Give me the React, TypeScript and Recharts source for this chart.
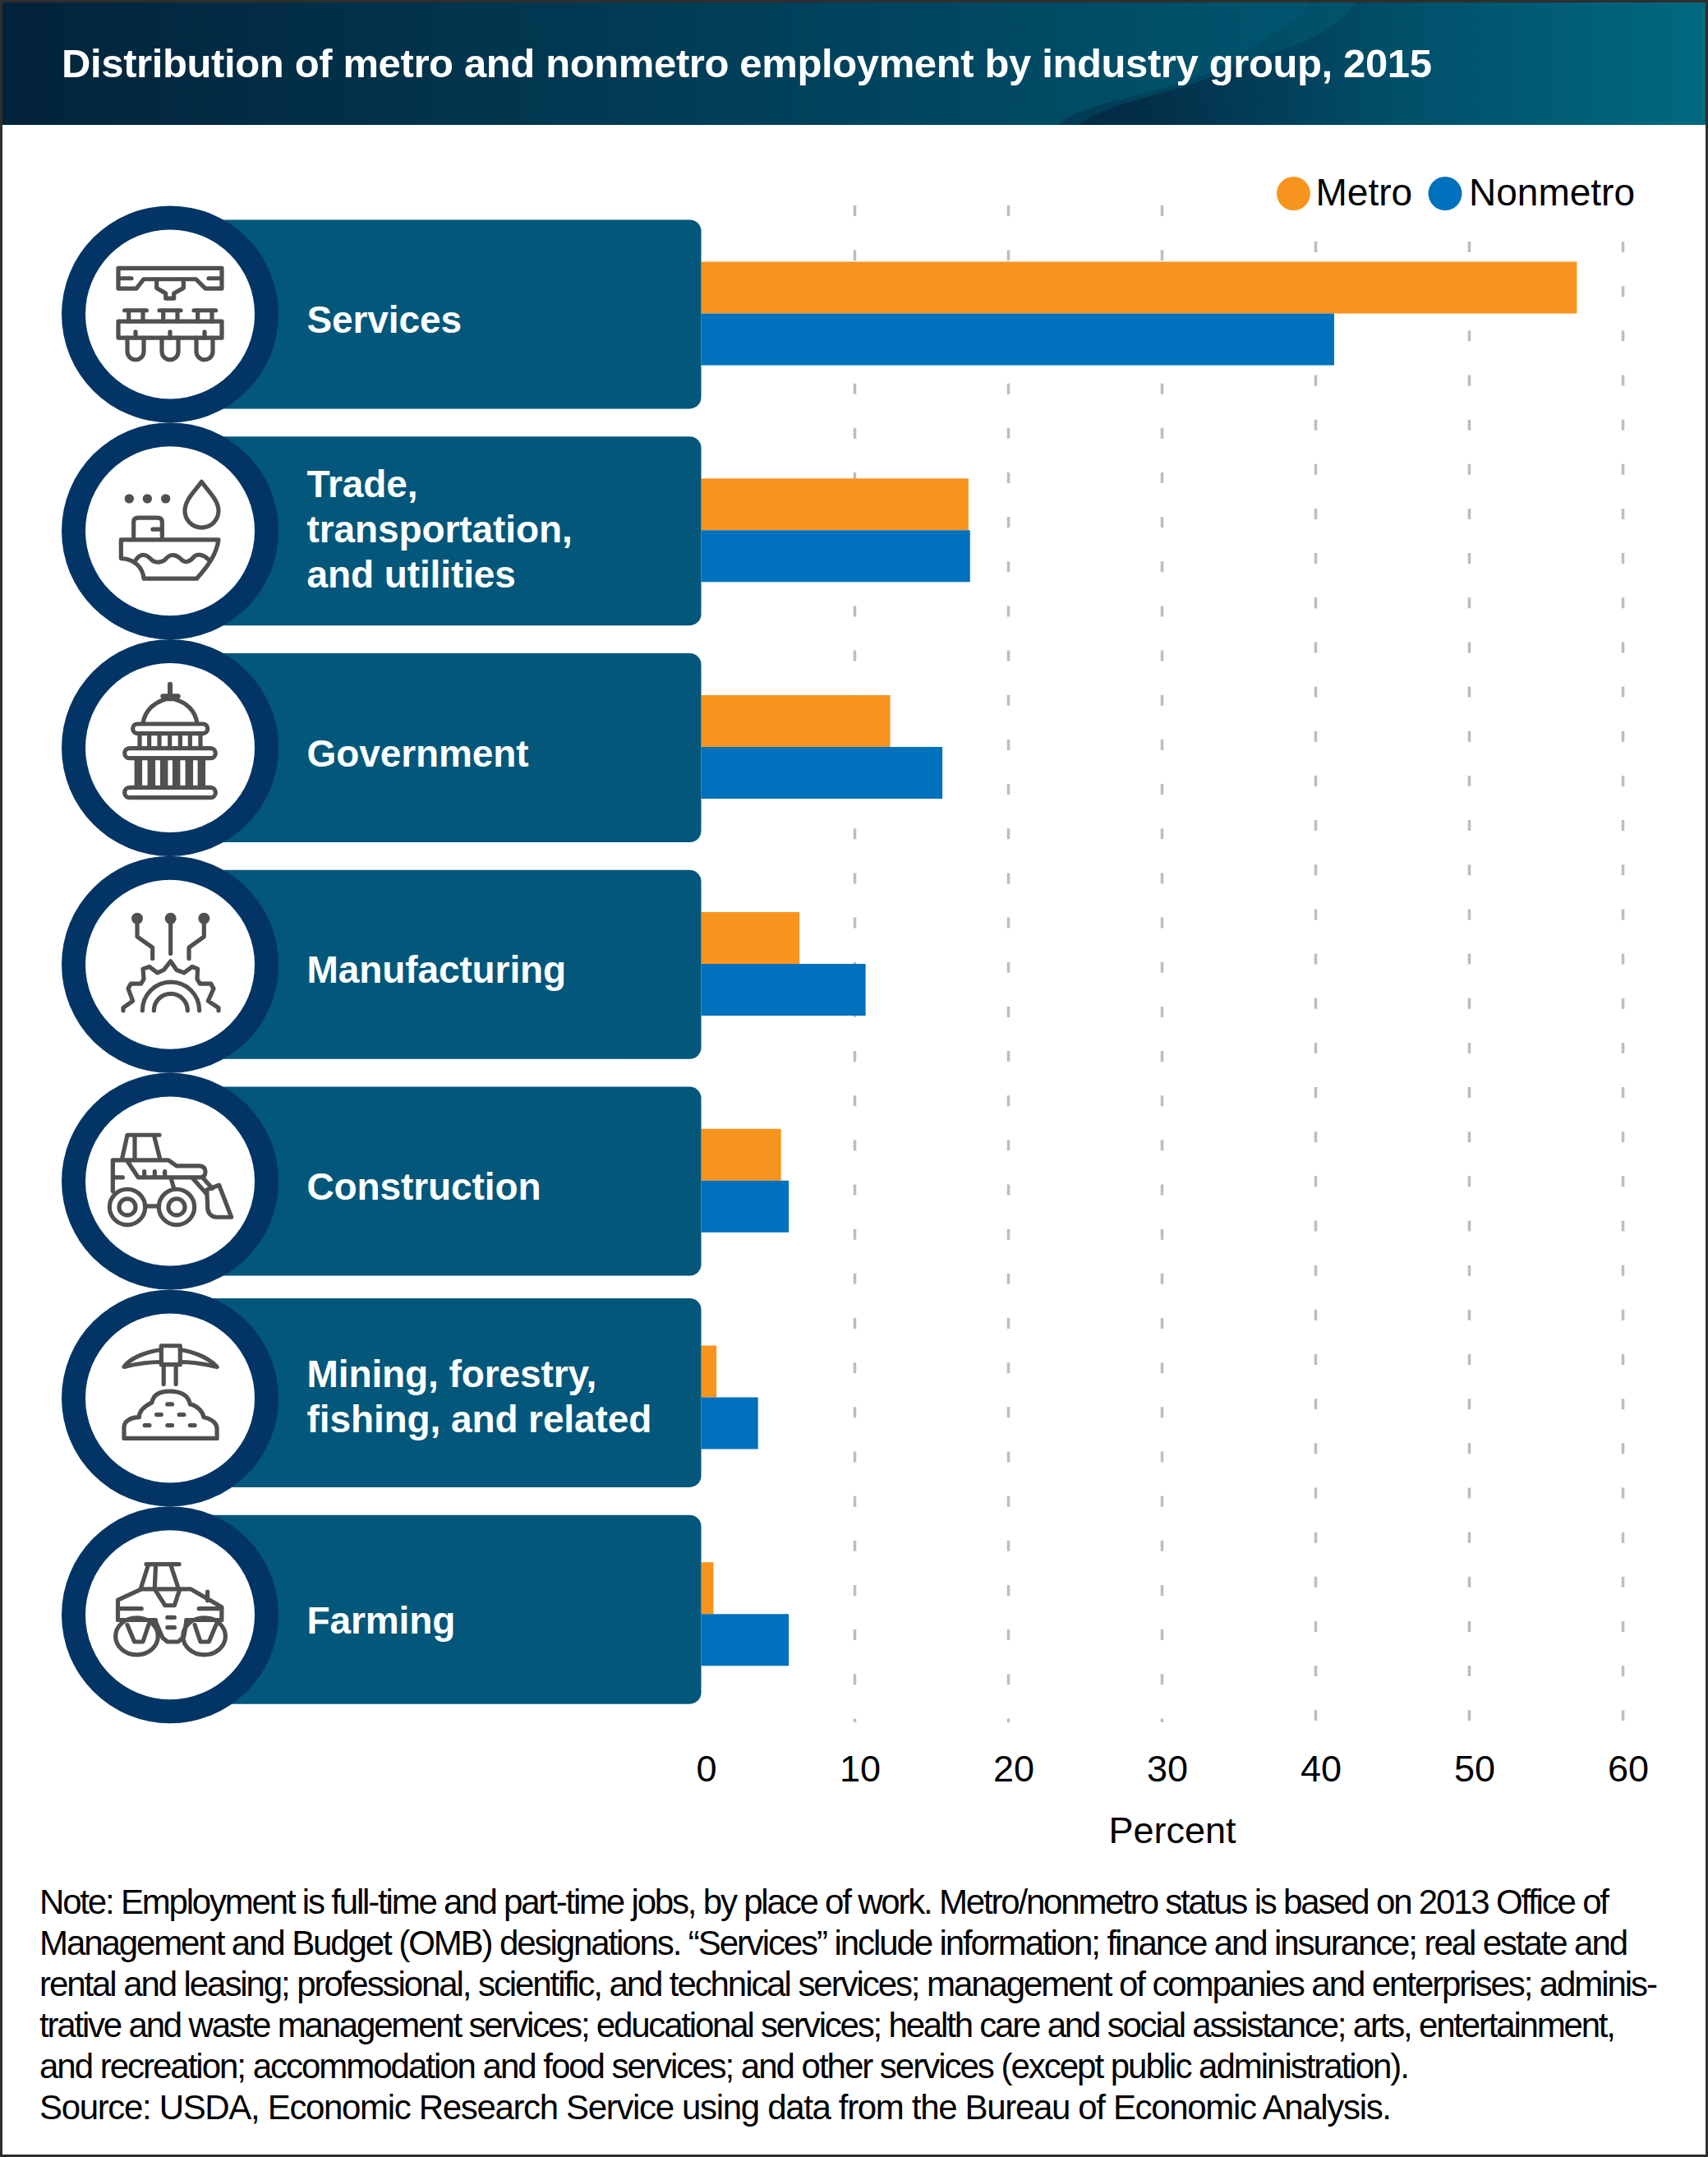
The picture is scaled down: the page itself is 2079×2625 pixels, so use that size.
import { Bar, BarChart, CartesianGrid, Legend, XAxis, YAxis } from 'recharts'

const categories = [
  'Services',
  'Trade, transportation, and utilities',
  'Government',
  'Manufacturing',
  'Construction',
  'Mining, forestry, fishing, and related',
  'Farming',
]
const categoryLines = [
  ['Services'],
  ['Trade,', 'transportation,', 'and utilities'],
  ['Government'],
  ['Manufacturing'],
  ['Construction'],
  ['Mining, forestry,', 'fishing, and related'],
  ['Farming'],
]
const metro = [57, 17.4, 12.3, 6.4, 5.2, 1, 0.8]
const nonmetro = [41.2, 17.5, 15.7, 10.7, 5.7, 3.7, 5.7]
const percentTicks = [0, 10, 20, 30, 40, 50, 60]
const gridValues = [10, 20, 30, 40, 50, 60]

const noteLines = [
  'Note: Employment is full-time and part-time jobs, by place of work. Metro/nonmetro status is based on 2013 Office of',
  'Management and Budget (OMB) designations. “Services” include information; finance and insurance; real estate and',
  'rental and leasing; professional, scientific, and technical services; management of companies and enterprises; adminis-',
  'trative and waste management services; educational services; health care and social assistance; arts, entertainment,',
  'and recreation; accommodation and food services; and other services (except public administration).',
  'Source: USDA, Economic Research Service using data from the Bureau of Economic Analysis.',
]
const noteWidths = [1911, 1934, 1970, 1919, 1668, 1646]

const chartData = categories.map((category, i) => ({
  category,
  metro: metro[i],
  nonmetro: nonmetro[i],
}))

const FONT = '"Liberation Sans", Arial, sans-serif'
const ORANGE = '#F7941E'
const BLUE = '#0071BC'
const PANEL = '#02577A'
const RING = '#023565'
const ICON = '#505050'

// Icons are traced in zoomed crop pixels, hence the scale on each group.
function Stroke({ children }: { children: React.ReactNode }) {
  return (
    <g fill="none" stroke={ICON} strokeWidth={5.2} strokeLinecap="round" strokeLinejoin="round">
      {children}
    </g>
  )
}

const p = (d: string, w?: number) => <path d={d} vectorEffect="non-scaling-stroke" strokeWidth={w} />

function ServicesIcon() {
  return (
    <g transform="scale(0.3333) translate(-321,-246)">
      <Stroke>
        {p('M132,78 H510 V152 H450 L415,118 H225 L198,152 H132 Z')}
        {p('M135,115 H180 M462,115 H505')}
        {p('M272,120 V150 L305,170 V188 H335 V170 L370,150 V120')}
        {p('M155,232 H235 M282,232 H360 M408,232 H488')}
        {p('M170,232 V272 M222,232 V272 M296,232 V272 M348,232 V272 M422,232 V272 M474,232 V272')}
        {p('M132,272 H510 V332 H132 Z')}
        {p('M165,332 V382 A30,30 0 0 0 225,382 V332 M291,332 V382 A30,30 0 0 0 351,382 V332 M417,332 V382 A30,30 0 0 0 477,382 V332')}
        {p('M195,310 V332 M321,310 V332 M447,310 V332')}
      </Stroke>
    </g>
  )
}

function TradeIcon() {
  return (
    <g transform="scale(0.3333) translate(-321,-258)">
      <g fill={ICON}>
        <circle cx={172} cy={140} r={17} />
        <circle cx={238} cy={140} r={17} />
        <circle cx={305} cy={140} r={17} />
      </g>
      <Stroke>
        {p('M436,78 C410,115 375,145 375,185 A61,60 0 0 0 498,185 C498,145 462,115 436,78 Z')}
        {p('M188,288 V225 Q188,210 205,210 H275 Q292,210 292,225 V288')}
        {p('M258,252 H285')}
        {p('M142,290 H498 C490,345 460,385 418,432 H225 C222,395 195,360 142,358 Z')}
        {p('M195,365 C215,335 235,345 250,360 C265,378 295,375 310,355 C325,340 345,345 360,360 C375,378 395,370 410,350 C425,340 445,345 465,365')}
      </Stroke>
    </g>
  )
}

function GovernmentIcon() {
  return (
    <g transform="scale(0.3333) translate(-321,-270)">
      <Stroke>
        {p('M321,38 V80', 6)}
        {p('M295,82 H350', 6)}
        {p('M222,180 C230,130 265,105 305,92 H337 C380,105 412,130 420,180')}
        <rect x={185} y={183} width={273} height={35} rx={17} vectorEffect="non-scaling-stroke" />
        {p('M210,218 V270 M245,218 V270 M282,218 V270 M320,218 V270 M358,218 V270 M394,218 V270 M432,218 V270')}
        <rect x={155} y={272} width={332} height={36} rx={18} vectorEffect="non-scaling-stroke" />
        <g strokeLinecap="butt">
          {p('M205,308 V415 M253,308 V415 M299,308 V415 M344,308 V415 M391,308 V415 M436,308 V415', 9.5)}
        </g>
        <rect x={155} y={415} width={332} height={37} rx={18} vectorEffect="non-scaling-stroke" />
      </Stroke>
    </g>
  )
}

function ManufacturingIcon() {
  return (
    <g transform="scale(0.3333) translate(-321,-252)">
      <g fill={ICON}>
        <circle cx={201} cy={84} r={21} />
        <circle cx={323} cy={84} r={21} />
        <circle cx={445} cy={84} r={21} />
      </g>
      <Stroke>
        {p('M201,84 V150 L257,190 V230 M323,84 V212 M445,84 V150 L390,190 V230')}
        {p('M150,420 V410 L185,385 L168,340 L178,322 H215 L225,305 L222,268 L245,260 L275,282 L298,272 L323,240 L345,272 L372,282 L402,260 L422,268 L420,305 L430,322 H470 L480,340 L460,385 L498,410 V420')}
        {p('M220,420 A104,104 0 0 1 428,420 M262,420 A61,61 0 0 1 385,420')}
      </Stroke>
    </g>
  )
}

function ConstructionIcon() {
  return (
    <g transform="scale(0.3333) translate(-321,-264)">
      <Stroke>
        {p('M145,185 L165,95 H282 M192,95 V185 M262,95 L285,185')}
        {p('M112,300 V187 H315 L345,208 H430 Q450,210 450,230 Q450,250 430,250 H205 L165,190')}
        {p('M120,250 H148 M227,228 V248 M265,228 V248 M302,228 V248')}
        <circle cx={165} cy={358} r={65} vectorEffect="non-scaling-stroke" />
        <circle cx={165} cy={358} r={30} vectorEffect="non-scaling-stroke" />
        <circle cx={345} cy={358} r={65} vectorEffect="non-scaling-stroke" />
        <circle cx={345} cy={358} r={30} vectorEffect="non-scaling-stroke" />
        {p('M230,355 H280 M325,255 L335,290 M405,255 L455,310 M440,250 L475,290')}
        {p('M455,295 L500,278 L545,395 H490 Q455,390 458,350 Z')}
      </Stroke>
    </g>
  )
}

function MiningIcon() {
  return (
    <g transform="scale(0.5741,0.3953) translate(-360.6,-511)">
      <Stroke>
        <rect x={342} y={350} width={40} height={58} vectorEffect="non-scaling-stroke" />
        {p('M342,362 C305,370 275,390 263,415 C290,405 320,400 342,400 M382,362 C415,370 445,390 460,415 C430,405 405,400 382,400')}
        {p('M347,410 V468 M373,410 V468')}
        {p('M263,635 V600 C263,580 280,570 295,570 C295,545 315,530 322,525 C325,500 340,490 360,490 C385,490 400,505 403,530 C420,535 430,555 432,570 C450,575 460,590 460,605 V635 Z')}
        {p('M355,530 H365 M332,562 H342 M380,562 H390 M307,595 H317 M355,595 H365 M403,595 H413')}
      </Stroke>
    </g>
  )
}

function FarmingIcon() {
  return (
    <g transform="scale(0.5741,0.3953) translate(-360.6,-1179)">
      <Stroke>
        {p('M310,1023 H380 M315,1023 L298,1100 M330,1030 L328,1100 L350,1150 H370 L380,1105 L363,1030')}
        {p('M250,1195 V1133 L300,1100 H405 L470,1155 V1195 H395 M250,1195 H330')}
        {p('M250,1160 H300 M422,1160 H470 M355,1187 H370 M355,1218 H370 M440,1108 V1135')}
        <ellipse cx={290} cy={1245} rx={45} ry={57} vectorEffect="non-scaling-stroke" />
        <ellipse cx={433} cy={1245} rx={45} ry={57} vectorEffect="non-scaling-stroke" />
        {p('M270,1210 L285,1262 H303 L315,1210 M413,1210 L425,1262 H443 L458,1210')}
        {p('M330,1200 L345,1250 L355,1262 H378 L390,1245 L395,1200')}
      </Stroke>
    </g>
  )
}

const icons = [ServicesIcon, TradeIcon, GovernmentIcon, ManufacturingIcon, ConstructionIcon, MiningIcon, FarmingIcon]

// Each category label is a panel with a ringed icon, drawn at the band centre.
function CategoryTick({ y, index }: any) {
  const Icon = icons[index]
  const lines = categoryLines[index]
  // The two bottom panels sit a little above their circles in the original.
  const panelShift = index >= 5 ? -5.5 : 1
  const cy = y + 1
  const firstBaseline = lines.length === 1 ? cy + 22.5 : cy + 14 - ((lines.length - 1) * 55) / 2
  return (
    <g>
      <rect x={150} y={y - 115 + panelShift} width={703.5} height={230} rx={14} fill={PANEL} />
      <circle cx={207} cy={cy} r={132} fill={RING} />
      <circle cx={207} cy={cy} r={103} fill="#fff" />
      <g transform={`translate(207,${cy})`}>
        <Icon />
      </g>
      {lines.map((line, i) => (
        <text
          key={line}
          x={373.5}
          y={firstBaseline + i * 55}
          fill="#fff"
          fontFamily={FONT}
          fontWeight={700}
          fontSize={46}
          letterSpacing={-0.1}
        >
          {line}
        </text>
      ))}
    </g>
  )
}

function PercentTick({ x, y, payload }: any) {
  return (
    <text x={x + 6.5} y={y} textAnchor="middle" fontFamily={FONT} fontSize={45} fill="#000">
      {payload.value}
    </text>
  )
}

function GridLine({ x1, x2, index, stroke }: any) {
  // 10-30 run up to the top of the plot, 40-60 stop under the legend.
  const top = index < 3 ? 250 : 294
  const bottom = index < 3 ? 2096 : 2094
  return (
    <line
      key={index}
      x1={x1}
      x2={x2}
      y1={top}
      y2={bottom}
      stroke={stroke}
      strokeWidth={3.5}
      strokeDasharray="13 41.16"
    />
  )
}

function LegendContent() {
  return (
    <svg width={460} height={70} style={{ display: 'block' }}>
      <circle cx={24.5} cy={35.5} r={20.5} fill={ORANGE} />
      <text x={51.5} y={50} fontFamily={FONT} fontSize={46} fill="#000">
        Metro
      </text>
      <circle cx={209} cy={35.5} r={20.5} fill={BLUE} />
      <text x={238} y={50} fontFamily={FONT} fontSize={46} fill="#000">
        Nonmetro
      </text>
    </svg>
  )
}

function Backdrop() {
  return (
    <svg width={2079} height={2625} style={{ position: 'absolute', left: 0, top: 0 }}>
      <defs>
        <linearGradient id="headBase" x1="0" x2="1" y1="0" y2="0">
          <stop offset="0" stopColor="#03233A" />
          <stop offset="0.5" stopColor="#01435D" />
          <stop offset="0.78" stopColor="#00566F" />
        </linearGradient>
        <linearGradient id="headBand" gradientUnits="userSpaceOnUse" x1="1300" x2="1650" y1="0" y2="0">
          <stop offset="0" stopColor="#023A54" />
          <stop offset="1" stopColor="#01546D" />
        </linearGradient>
        <linearGradient id="headWave" gradientUnits="userSpaceOnUse" x1="1300" x2="2079" y1="0" y2="0">
          <stop offset="0" stopColor="#032B44" />
          <stop offset="0.12" stopColor="#032E48" />
          <stop offset="0.5" stopColor="#014E68" />
          <stop offset="1" stopColor="#006A80" />
        </linearGradient>
      </defs>
      <rect width={2079} height={152} fill="url(#headBase)" />
      <path
        d="M1595,3 C1585,20 1540,50 1482,83 C1420,115 1310,125 1289,152 L1315,152 C1340,125 1430,115 1482,90 C1540,65 1620,50 1650,3 Z"
        fill="url(#headBand)"
      />
      <path
        d="M1650,3 C1620,50 1540,65 1482,90 C1430,115 1340,125 1315,152 H2079 V3 Z"
        fill="url(#headWave)"
      />
    </svg>
  )
}

export default function App() {
  return (
    <div style={{ position: 'absolute', left: 0, top: 0, width: 2079, height: 2625, background: '#fff', overflow: 'hidden' }}>
      <Backdrop />
      <BarChart
        width={2079}
        height={2625}
        data={chartData}
        layout="vertical"
        margin={{ top: 249.5, right: 103.5, bottom: 0, left: 0 }}
        barCategoryGap={68.9}
        barGap={0}
        barSize={63}
        style={{ position: 'absolute', left: 0, top: 0 }}
      >
        <CartesianGrid horizontal={false} verticalValues={gridValues} vertical={GridLine} stroke="#BDBDBD" />
        <XAxis
          type="number"
          domain={[0, 60]}
          ticks={percentTicks}
          height={528.9}
          axisLine={false}
          tickLine={false}
          tickMargin={0}
          tick={(props: any) => <PercentTick {...props} y={2168} />}
          label={{
            content: () => (
              <text x={1427} y={2243} textAnchor="middle" fontFamily={FONT} fontSize={45} fill="#000">
                Percent
              </text>
            ),
          }}
        />
        <YAxis
          type="category"
          dataKey="category"
          width={853.5}
          axisLine={false}
          tickLine={false}
          interval={0}
          tick={(props: any) => <CategoryTick {...props} />}
        />
        <Legend
          layout="horizontal"
          align="center"
          verticalAlign="middle"
          content={<LegendContent />}
          wrapperStyle={{ left: 1550, top: 200, width: 460, height: 70 }}
        />
        <Bar dataKey="metro" name="Metro" fill={ORANGE} isAnimationActive={false} />
        <Bar dataKey="nonmetro" name="Nonmetro" fill={BLUE} isAnimationActive={false} />
      </BarChart>
      <svg width={2079} height={2625} style={{ position: 'absolute', left: 0, top: 0, pointerEvents: 'none' }}>
        <text
          x={75}
          y={94}
          fill="#fff"
          fontFamily={FONT}
          fontWeight={700}
          fontSize={49}
          textLength={1668}
          lengthAdjust="spacing"
        >
          Distribution of metro and nonmetro employment by industry group, 2015
        </text>
        {noteLines.map((line, i) => (
          <text
            key={line}
            x={48}
            y={2328.5 + i * 50}
            fill="#000"
            fontFamily={FONT}
            fontSize={42}
            textLength={noteWidths[i]}
            lengthAdjust="spacing"
          >
            {line}
          </text>
        ))}
        <rect x={1.5} y={1.5} width={2076} height={2622} fill="none" stroke="#2E2E2E" strokeWidth={3} />
      </svg>
    </div>
  )
}
